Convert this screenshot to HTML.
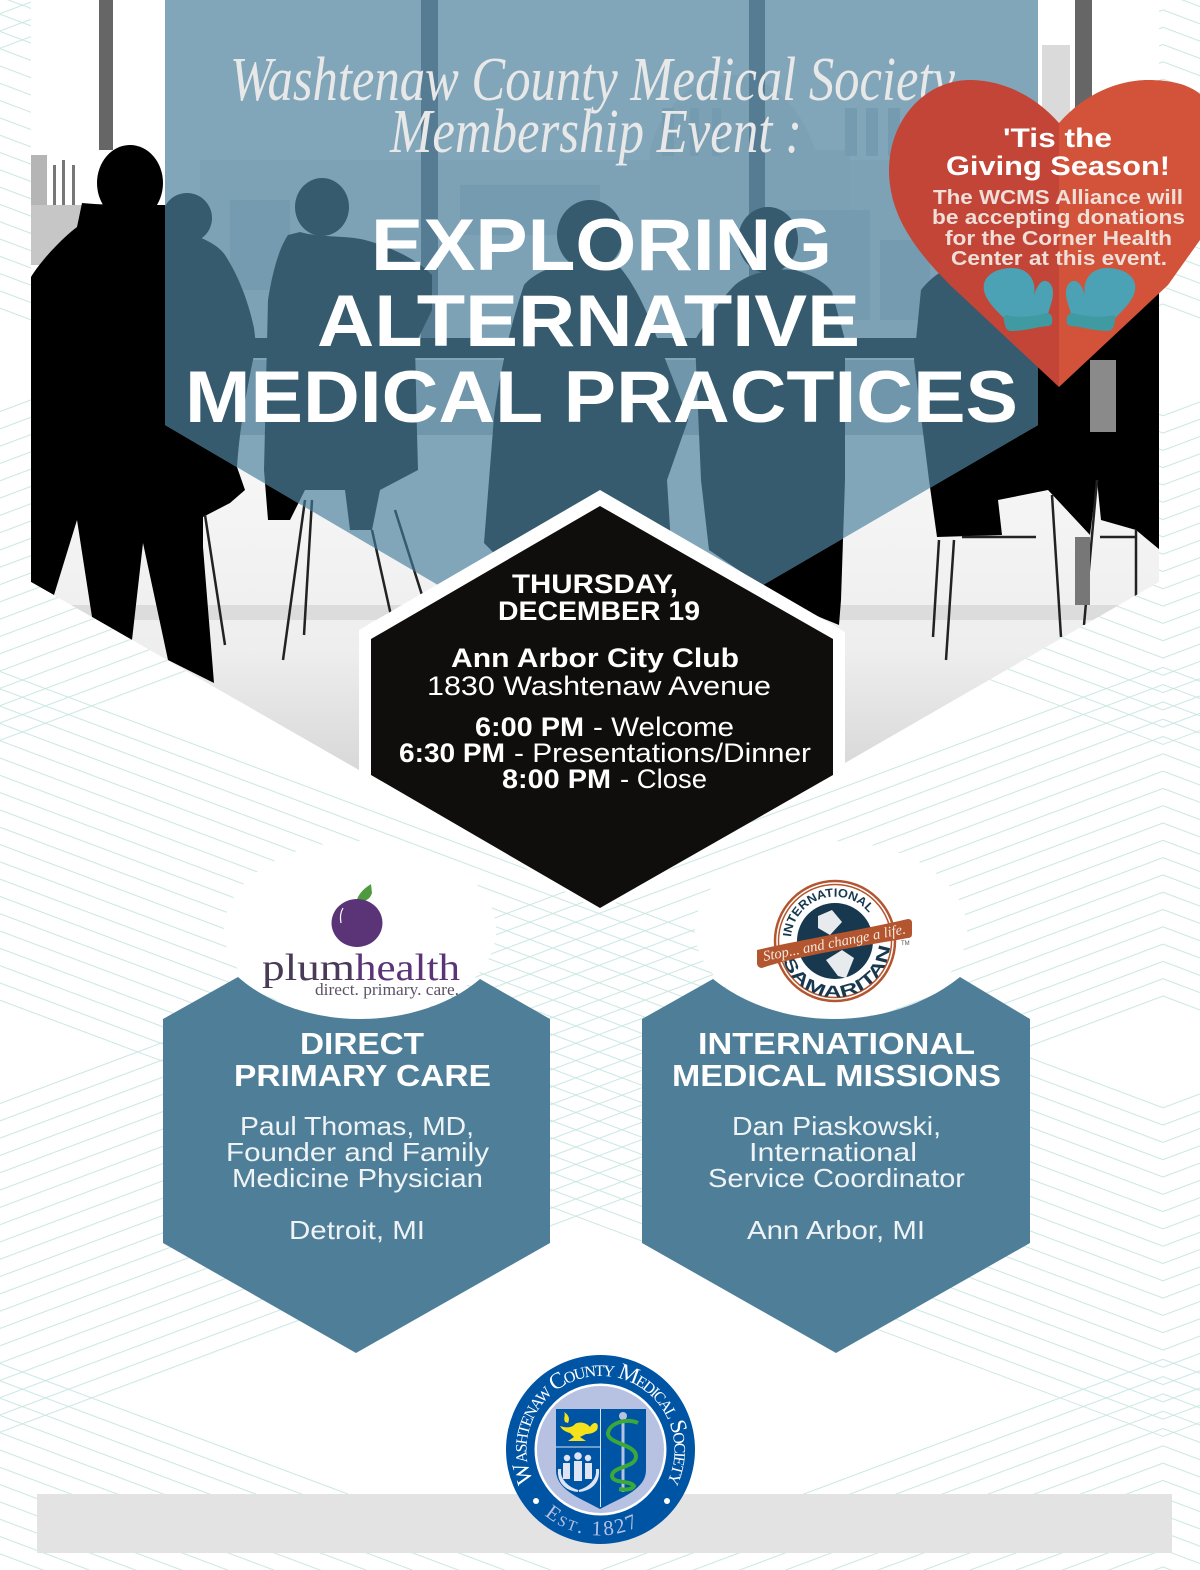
<!DOCTYPE html>
<html><head><meta charset="utf-8"><title>Exploring Alternative Medical Practices</title>
<style>
html,body{margin:0;padding:0;background:#fff;width:1200px;height:1570px;overflow:hidden}
svg{display:block}
text{font-family:"Liberation Sans",sans-serif}
.b{font-weight:bold}
.s{font-family:"Liberation Serif",serif}
</style></head><body>
<svg xmlns="http://www.w3.org/2000/svg" width="1200" height="1570" viewBox="0 0 1200 1570">
<defs>
<pattern id="asc" patternUnits="userSpaceOnUse" width="60" height="17.3" patternTransform="translate(0,1103) skewY(-20.56)"><rect x="0" y="-0.1" width="60" height="1.2" fill="#cbe7e3"/></pattern>
<pattern id="desc" patternUnits="userSpaceOnUse" width="60" height="17.3" patternTransform="translate(0,671) skewY(20.56)"><rect x="0" y="-0.1" width="60" height="1.2" fill="#cbe7e3"/></pattern>
<pattern id="ascR" patternUnits="userSpaceOnUse" width="60" height="17.3" patternTransform="translate(2326,0) scale(-1,1) translate(0,1103) skewY(-20.56)"><rect x="0" y="-0.1" width="60" height="1.2" fill="#cbe7e3"/></pattern>
<pattern id="descR" patternUnits="userSpaceOnUse" width="60" height="17.3" patternTransform="translate(2326,0) scale(-1,1) translate(0,671) skewY(20.56)"><rect x="0" y="-0.1" width="60" height="1.2" fill="#cbe7e3"/></pattern>
<clipPath id="photo"><polygon points="31,0 1159,0 1159,582 845,763 600,900 359,770 31,582"/></clipPath>
<clipPath id="blue"><polygon points="165,0 1038,0 1038,425 600,680 165,425"/></clipPath>
<linearGradient id="floor" x1="0" y1="0" x2="0" y2="1"><stop offset="0" stop-color="#f6f6f6"/><stop offset="0.6" stop-color="#eeeeee"/><stop offset="1" stop-color="#d8d8d8"/></linearGradient>
<g id="sil">
<ellipse cx="130" cy="183" rx="33" ry="38"/>
<path d="M31,277 C40,262 60,240 77,227 L82,203 C100,205 130,205 165,205 L172,225 C190,235 215,240 225,255 C238,275 248,300 254,328 L256,345 C250,375 240,420 237,467 L245,490 L230,503 L203,517 L203,547 L214,683 L168,660 L143,543 L132,640 L92,617 L77,520 L54,595 L31,582 Z"/>
<ellipse cx="187" cy="218" rx="25" ry="25"/>
<ellipse cx="322" cy="207" rx="27" ry="29"/>
<path d="M268,300 C272,275 278,250 288,235 L300,232 C320,238 345,235 365,240 C395,248 420,262 432,275 L432,310 L415,345 L417,433 L418,470 L380,490 L372,530 L350,530 L345,490 L305,490 L290,520 L268,520 L264,470 Z"/>
<ellipse cx="590" cy="235" rx="33" ry="35"/>
<path d="M494,417 C500,370 512,320 524,285 C535,272 555,265 575,262 L615,262 C628,275 640,295 654,330 C665,360 680,395 688,420 L667,480 L672,560 L640,620 L560,620 L484,543 Z"/>
<ellipse cx="768" cy="240" rx="30" ry="33"/>
<path d="M695,340 C710,315 722,298 735,285 C750,272 775,268 795,270 C812,275 825,282 832,292 L845,340 L845,480 L841,600 L839,625 L790,605 L709,550 L701,480 Z"/>
<path d="M921,290 C935,272 955,262 975,262 L1040,260 L1160,260 L1160,550 L1136,530 L1101,520 L1097,480 L1090,535 L1048,490 L998,500 L1002,535 L937,537 L929,480 L914,360 Z"/>
<g fill="none" stroke="currentColor" stroke-width="2.5">
<path d="M205,515 L225,645 M305,500 L283,660 M312,500 L304,635 M395,510 L422,595 M372,530 L392,620 M650,470 L660,530 M640,440 L630,520 M939,540 L933,637 M954,540 L946,660 M1052,495 L1061,637 M1097,480 L1084,625 M962,537 H1036 M1100,537 H1136 M1136,530 V597"/>
</g>
</g>
<symbol id="mit" viewBox="0 0 1200 1570" width="1200" height="1570">
<path fill="#4aa2b4" d="M1006,320 C990,305 982,295 984,284 C986,274 998,268 1012,268 C1028,268 1037,280 1034,296 C1036,288 1040,280 1046,281 C1053,283 1055,292 1051,304 L1046,320 Z"/>
<path fill="#3f9aa2" d="M1004,321 C1003,315 1005,314 1010,316 C1022,318 1036,316 1046,313 C1052,313 1053,318 1052,323 C1051,327 1046,326 1040,327 C1030,329 1020,331 1011,331 C1006,331 1005,326 1004,321 Z"/>
</symbol>
</defs>

<rect width="1200" height="1570" fill="#fff"/>
<!-- background chevron lines -->
<polygon fill="url(#asc)" points="0,0 147,0 0,55"/>
<polygon fill="url(#asc)" points="0,403 1075,0 1163,0 1163,311 0,747"/>
<polygon fill="url(#asc)" points="0,1095 1163,659 1163,1003 0,1439"/>
<polygon fill="url(#asc)" points="579,1570 1163,1351 1163,1570"/>
<polygon fill="url(#desc)" points="77,0 1163,407 1163,745 0,309 0,0"/>
<polygon fill="url(#desc)" points="0,663 1163,1099 1163,1437 0,1001"/>
<polygon fill="url(#desc)" points="0,1355 573,1570 0,1570"/>
<polygon fill="url(#ascR)" points="1163,0 1200,0 1200,325 1163,311"/>
<polygon fill="url(#ascR)" points="1163,659 1200,673 1200,1017 1163,1003"/>
<polygon fill="url(#ascR)" points="1163,1351 1200,1365 1200,1570 1163,1570"/>
<polygon fill="url(#descR)" points="1163,407 1200,393 1200,731 1163,745"/>
<polygon fill="url(#descR)" points="1163,1099 1200,1085 1200,1423 1163,1437"/>

<!-- photo -->
<g clip-path="url(#photo)">
<rect x="31" y="0" width="1128" height="480" fill="#fff"/>
<rect x="31" y="470" width="1128" height="300" fill="url(#floor)"/>
<rect x="31" y="605" width="1128" height="15" fill="#dcdcdc"/>
<rect x="31" y="205" width="65" height="60" fill="#c6c6c6"/>
<rect x="31" y="155" width="16" height="50" fill="#b5b5b5"/>
<rect x="53" y="165" width="3" height="40" fill="#777"/><rect x="62" y="160" width="3" height="45" fill="#777"/><rect x="72" y="165" width="3" height="40" fill="#777"/>
<rect x="99" y="0" width="14" height="150" fill="#666"/>
<rect x="1075" y="0" width="17" height="270" fill="#666"/>
<rect x="1042" y="45" width="28" height="90" fill="#dadada"/>
<rect x="1042" y="135" width="28" height="140" fill="#cacaca"/>
<use href="#sil" fill="#000" color="#222"/>
<rect x="1090" y="360" width="26" height="72" fill="#8a8a8a"/>
<rect x="1075" y="537" width="15" height="68" fill="#777"/>
</g>

<!-- blue panel -->
<g clip-path="url(#blue)">
<rect x="165" y="0" width="873" height="680" fill="#82a6b9"/>
<rect x="200" y="160" width="838" height="180" fill="#7da2b5"/>
<path d="M650,150 C660,105 700,75 730,75 C770,75 800,105 815,150 L850,150 V330 H650 Z" fill="#7ca0b4"/>
<g fill="#759bb0"><rect x="662" y="108" width="12" height="48"/><rect x="690" y="108" width="9" height="48"/><rect x="712" y="108" width="9" height="48"/><rect x="845" y="108" width="12" height="48"/><rect x="866" y="108" width="12" height="48"/><rect x="888" y="108" width="12" height="48"/><rect x="230" y="200" width="60" height="90"/><rect x="460" y="185" width="140" height="50"/><rect x="780" y="210" width="90" height="110"/><rect x="880" y="240" width="50" height="80"/></g>
<rect x="200" y="360" width="838" height="75" fill="#6f96ab"/>
<rect x="421" y="0" width="17" height="350" fill="#557c92"/>
<rect x="749" y="0" width="16" height="350" fill="#557c92"/>
<rect x="200" y="338" width="838" height="20" fill="#365a6e"/>
<use href="#sil" fill="#365a6e" color="#365a6e"/>
</g>

<!-- central hexagon -->
<polygon points="600,490 845,632 845,763 600,912 359,770 359,630" fill="#fff"/>
<polygon points="600,506 833,639 833,775 600,908 371,775 371,639" fill="#0f0e0c"/>

<!-- title -->
<g font-style="italic" fill="#e8e8e8" font-size="62">
<text x="230" y="100" textLength="725" lengthAdjust="spacingAndGlyphs" class="s">Washtenaw County Medical Society</text>
<text x="390" y="152" textLength="412" lengthAdjust="spacingAndGlyphs" class="s">Membership Event :</text>
</g>
<g class="b" fill="#fff" font-size="73">
<text x="371" y="270" textLength="461" lengthAdjust="spacingAndGlyphs">EXPLORING</text>
<text x="317" y="346" textLength="543" lengthAdjust="spacingAndGlyphs">ALTERNATIVE</text>
<text x="185" y="422" textLength="833" lengthAdjust="spacingAndGlyphs">MEDICAL PRACTICES</text>
</g>

<!-- heart -->
<path d="M1059,123 C1030,90 995,80 970,80 C925,80 889,120 889,170 C889,215 915,250 950,285 L1059,387 Z" fill="#c34537"/>
<path d="M1059,123 C1088,90 1123,80 1148,80 C1170,80 1188,84 1200,94 V240 L1168,285 L1059,387 Z" fill="#d25339"/>
<g class="b" fill="#fff" font-size="27">
<text x="1003" y="147" textLength="109" lengthAdjust="spacingAndGlyphs">'Tis the</text>
<text x="946" y="175" textLength="224" lengthAdjust="spacingAndGlyphs">Giving Season!</text>
</g>
<g class="b" fill="#eedfd8" font-size="20.5">
<text x="933" y="204" textLength="250" lengthAdjust="spacingAndGlyphs">The WCMS Alliance will</text>
<text x="932" y="224" textLength="253" lengthAdjust="spacingAndGlyphs">be accepting donations</text>
<text x="945" y="245" textLength="227" lengthAdjust="spacingAndGlyphs">for the Corner Health</text>
<text x="951" y="265" textLength="216" lengthAdjust="spacingAndGlyphs">Center at this event.</text>
</g>
<use href="#mit"/>
<g transform="translate(2119,0) scale(-1,1)"><use href="#mit"/></g>

<!-- hex text -->
<g fill="#fff" font-size="26.5">
<g class="b">
<text x="512" y="593" textLength="166" lengthAdjust="spacingAndGlyphs">THURSDAY,</text>
<text x="498" y="620" textLength="202" lengthAdjust="spacingAndGlyphs">DECEMBER 19</text>
<text x="451" y="667" textLength="288" lengthAdjust="spacingAndGlyphs">Ann Arbor City Club</text>
<text x="475" y="736" textLength="109" lengthAdjust="spacingAndGlyphs">6:00 PM</text>
<text x="399" y="762" textLength="106" lengthAdjust="spacingAndGlyphs">6:30 PM</text>
<text x="502" y="788" textLength="109" lengthAdjust="spacingAndGlyphs">8:00 PM</text>
</g>
<text x="427" y="695" textLength="344" lengthAdjust="spacingAndGlyphs">1830 Washtenaw Avenue</text>
<text x="593" y="736" textLength="141" lengthAdjust="spacingAndGlyphs">- Welcome</text>
<text x="514" y="762" textLength="297" lengthAdjust="spacingAndGlyphs">- Presentations/Dinner</text>
<text x="620" y="788" textLength="87" lengthAdjust="spacingAndGlyphs">- Close</text>
</g>

<!-- blobs and lower hexagons -->
<ellipse cx="360" cy="930" rx="136" ry="89" fill="#fff"/>
<ellipse cx="831" cy="930" rx="136" ry="89" fill="#fff"/>
<path d="M163,1019 L238,977 C270,1005 315,1019 360,1019 C405,1019 450,1005 480,979 L550,1019 V1243 L356,1353 L163,1243 Z" fill="#4f7e98"/>
<path d="M642,1019 L713,979 C745,1005 790,1019 833,1019 C880,1019 925,1005 960,977 L1030,1019 V1243 L836,1353 L642,1243 Z" fill="#4f7e98"/>
<g class="b" fill="#fff" font-size="31">
<text x="300" y="1054" textLength="124" lengthAdjust="spacingAndGlyphs">DIRECT</text>
<text x="234" y="1086" textLength="257" lengthAdjust="spacingAndGlyphs">PRIMARY CARE</text>
<text x="698" y="1054" textLength="277" lengthAdjust="spacingAndGlyphs">INTERNATIONAL</text>
<text x="672" y="1086" textLength="329" lengthAdjust="spacingAndGlyphs">MEDICAL MISSIONS</text>
</g>
<g fill="#eef3f6" font-size="26">
<text x="240" y="1135" textLength="234" lengthAdjust="spacingAndGlyphs">Paul Thomas, MD,</text>
<text x="226" y="1161" textLength="263" lengthAdjust="spacingAndGlyphs">Founder and Family</text>
<text x="232" y="1187" textLength="251" lengthAdjust="spacingAndGlyphs">Medicine Physician</text>
<text x="289" y="1239" textLength="136" lengthAdjust="spacingAndGlyphs">Detroit, MI</text>
<text x="732" y="1135" textLength="209" lengthAdjust="spacingAndGlyphs">Dan Piaskowski,</text>
<text x="749" y="1161" textLength="168" lengthAdjust="spacingAndGlyphs">International</text>
<text x="708" y="1187" textLength="257" lengthAdjust="spacingAndGlyphs">Service Coordinator</text>
<text x="747" y="1239" textLength="178" lengthAdjust="spacingAndGlyphs">Ann Arbor, MI</text>
</g>

<!-- plum health -->
<path d="M356,903 C358,893 365,888 371,884 L372,893 C370,899 366,902 356,902 Z" fill="#4f9a3e"/>
<ellipse cx="357" cy="923" rx="25.5" ry="24" fill="#5b3478"/>
<path d="M343,908 C340,913 340,918 341,923" stroke="#fff" stroke-width="1.2" fill="none"/>
<text class="s" x="262" y="980" font-size="38" fill="#4a3a5a" textLength="93" lengthAdjust="spacingAndGlyphs">plum</text>
<text class="s" x="355" y="980" font-size="38" fill="#5b3478" textLength="105" lengthAdjust="spacingAndGlyphs">health</text>
<text class="s" x="315" y="995" font-size="16.5" fill="#5c5266" textLength="144" lengthAdjust="spacingAndGlyphs">direct. primary. care.</text>

<!-- international samaritan -->
<circle cx="835" cy="941" r="60" fill="#fff" stroke="#b3562f" stroke-width="2.5"/>
<circle cx="835" cy="941" r="56.5" fill="none" stroke="#b3562f" stroke-width="1.5"/>
<circle cx="835" cy="941" r="38" fill="#17384e"/>
<path d="M818,916 L832,910 842,922 830,935 818,928 Z M826,960 L842,950 854,958 846,978 838,976 Z" fill="#fff" opacity="0.9"/>
<path id="isT" d="M791,937 A44,44 0 0 1 869,913" fill="none"/>
<path id="isB" d="M783,960 A55,55 0 0 0 890,941" fill="none"/>
<text class="b" font-size="12" fill="#17384e"><textPath href="#isT" textLength="104" lengthAdjust="spacingAndGlyphs">INTERNATIONAL</textPath></text>
<text class="b" font-size="16.5" fill="#17384e"><textPath href="#isB" textLength="150" lengthAdjust="spacingAndGlyphs">SAMARITAN</textPath></text>
<path d="M757,950 C790,942 860,930 908,919 Q912,919 912,923 L912,934 Q912,938 908,938 C870,945 800,955 762,968 Q758,968 757,964 Z" fill="#b3562f"/>
<text class="s" font-style="italic" font-size="14.5" fill="#f6e9e0" transform="translate(764,961) rotate(-11)" textLength="145" lengthAdjust="spacingAndGlyphs">Stop... and change a life.</text>
<text font-size="6" fill="#555" x="901" y="945">TM</text>

<!-- footer bar -->
<rect x="37" y="1494" width="1135" height="59" fill="#e3e3e3"/>

<!-- seal -->
<circle cx="600.5" cy="1449.5" r="94.5" fill="#0054a4"/>
<circle cx="600.5" cy="1449.5" r="66" fill="#fff"/>
<circle cx="600.5" cy="1449.5" r="63.5" fill="#b7c1e1"/>
<path d="M556,1409 H646 V1470 C646,1490 620,1498 600,1509 C580,1498 556,1490 556,1470 Z" fill="#0054a4"/>
<path d="M600.5,1409 V1507 M556,1447 H600" stroke="#dfe4f2" stroke-width="1"/>
<path d="M560,1426 C566,1428 572,1428 575,1424 C580,1421 587,1423 590,1427 C594,1420 600,1423 597,1430 C594,1433 590,1434 586,1434 L580,1437 L586,1441 H568 L574,1437 L570,1433 C566,1432 562,1430 560,1426 Z M565,1422 C563,1418 566,1415 564,1412 C569,1415 570,1419 568,1423 Z" fill="#f5e21b"/>
<path d="M623,1418 V1492" stroke="#b7c1e1" stroke-width="3"/>
<circle cx="623" cy="1416" r="4" fill="#b7c1e1"/>
<path d="M638,1423 C628,1418 610,1422 608,1433 C607,1444 637,1444 636,1457 C635,1468 612,1466 612,1476 C613,1484 630,1480 634,1486 C632,1490 624,1490 619,1489" fill="none" stroke="#3aa83a" stroke-width="4"/>
<g fill="#dfe4f2">
<circle cx="578" cy="1456" r="3.8"/><circle cx="567" cy="1458" r="3.2"/><circle cx="588" cy="1458" r="3.2"/>
<rect x="574" y="1461" width="8" height="20"/><rect x="563" y="1463" width="7" height="16"/><rect x="585" y="1463" width="7" height="16"/>
<path d="M560,1470 C559,1480 568,1488 578,1491 C568,1490 558,1484 559,1470 Z M597,1470 C598,1480 589,1488 579,1491 C589,1490 599,1484 598,1470 Z" stroke="#dfe4f2" stroke-width="2"/>
</g>
<path id="sT" d="M533.5,1481.4 A74,74 0 1 1 667.5,1481.4" fill="none"/>
<path id="sB" d="M540,1511 A86,86 0 0 0 660,1511" fill="none"/>
<text class="s" font-size="23" fill="#fff" font-variant="small-caps"><textPath href="#sT" textLength="298">Washtenaw County Medical Society</textPath></text>
<text class="s" font-size="21" fill="#b7c1e1" font-variant="small-caps"><textPath href="#sB" textLength="100" startOffset="6">Est. 1827</textPath></text>
<circle cx="536" cy="1501" r="3" fill="#fff"/><circle cx="667" cy="1501" r="3" fill="#fff"/>
</svg>
</body></html>
